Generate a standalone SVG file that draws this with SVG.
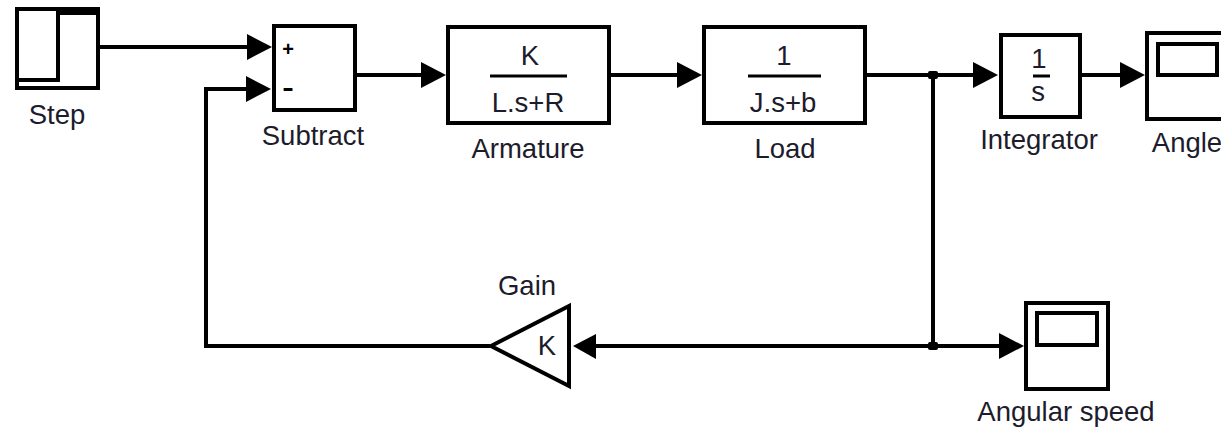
<svg xmlns="http://www.w3.org/2000/svg" width="1221" height="430" viewBox="0 0 1221 430">
<style>
.b{fill:#fff;stroke:#000;stroke-width:4}
.t{fill:none;stroke:#000;stroke-width:3}
.c{fill:none;stroke:#000;stroke-width:4}
.a{fill:#000;stroke:none}
text{font-family:"Liberation Sans",Arial,sans-serif;font-size:27.500px;fill:#1c1c2c;text-anchor:middle}
</style>
<defs>
<path id="ah" class="a" d="M-25,-13L0,0L-25,13Z"/>
</defs>
<rect width="1221" height="430" fill="#fff"/>
<g id="connectors">
<path class="c" d="M100,47H250"/>
<path class="c" d="M357,75H425"/>
<path class="c" d="M610,75H680"/>
<path class="c" d="M866,75H975"/>
<path class="c" d="M1082,75H1125"/>
<path class="c" d="M933,75V346"/>
<path class="c" d="M595,346H1003"/>
<path class="c" d="M490,346H206V89H250"/>
<use href="#ah" x="272" y="47"/>
<use href="#ah" x="271" y="89"/>
<use href="#ah" x="446" y="75"/>
<use href="#ah" x="702" y="75"/>
<use href="#ah" x="998" y="75"/>
<use href="#ah" x="1145" y="75"/>
<use href="#ah" x="1024" y="346"/>
<path class="a" d="M573,346L596,334V359Z"/>
<rect class="a" x="928" y="71" width="10" height="8" rx="2"/>
<rect class="a" x="928" y="342" width="10" height="8" rx="2"/>
</g>
<g id="step">
<rect class="b" x="17" y="9" width="81" height="79"/>
<path class="c" d="M17,80H58V11H98"/>
<rect class="a" x="57" y="8" width="41" height="7"/>
<text x="57" y="124">Step</text>
</g>
<g id="subtract">
<rect class="b" x="274" y="26" width="81" height="84"/>
<text x="288" y="56" style="font-size:20px;font-weight:bold;fill:#000">+</text>
<text x="288" y="99" style="font-size:36px;fill:#000">-</text>
<text x="313" y="145">Subtract</text>
</g>
<g id="armature">
<rect class="b" x="448" y="27" width="161" height="96"/>
<path class="t" d="M490,76H567"/>
<text x="530" y="65">K</text>
<text x="528" y="112">L.s+R</text>
<text x="528" y="158">Armature</text>
</g>
<g id="load">
<rect class="b" x="704" y="27" width="161" height="96"/>
<path class="t" d="M748,76H821"/>
<text x="784" y="65">1</text>
<text x="783" y="112">J.s+b</text>
<text x="785" y="158">Load</text>
</g>
<g id="integrator">
<rect class="b" x="1001" y="35" width="79" height="82"/>
<path class="t" d="M1033,76H1050"/>
<text x="1039" y="68">1</text>
<text x="1038" y="101">s</text>
<text x="1039" y="149">Integrator</text>
</g>
<g id="angle">
<rect class="b" x="1147" y="33" width="80" height="86"/>
<rect class="b" x="1158" y="44" width="59" height="31"/>
<text x="1187" y="152">Angle</text>
</g>
<g id="gain">
<path class="b" d="M491,346L569,306V386Z"/>
<text x="547" y="355">K</text>
<text x="527" y="295">Gain</text>
</g>
<g id="angular-speed">
<rect class="b" x="1026" y="303" width="82" height="86"/>
<rect class="b" x="1037" y="313" width="60" height="32"/>
<text x="1066" y="421">Angular speed</text>
</g>
</svg>
